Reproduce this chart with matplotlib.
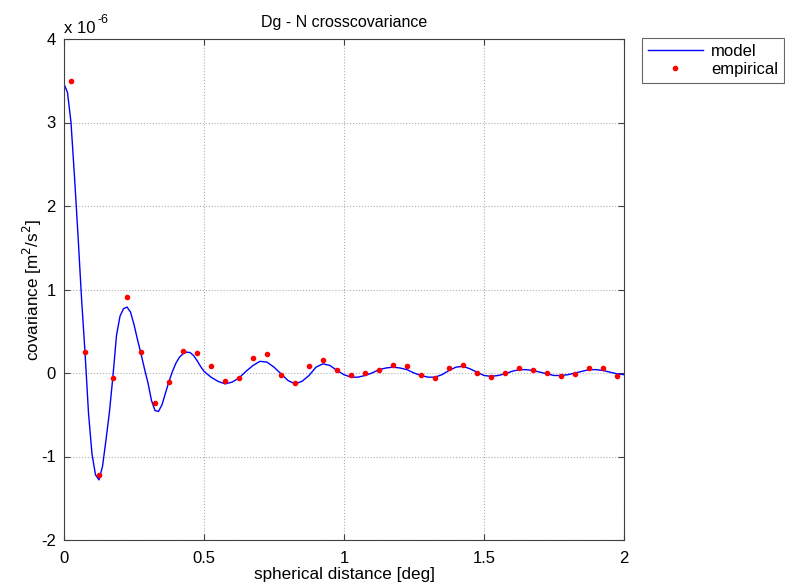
import matplotlib
matplotlib.use("Agg")
import matplotlib.pyplot as plt

plt.rcParams['font.family'] = ['Liberation Sans', 'DejaVu Sans']
plt.rcParams['axes.unicode_minus'] = False

# model curve (units of 1e-6 m^2/s^2)
# sampled every 0.0125 deg up to 0.5, then every 0.025 deg
model_x = [i * 0.0125 for i in range(41)] + [0.525 + 0.025 * i for i in range(60)]
model_y = [3.46, 3.36, 3.00, 2.35, 1.65, 0.90, 0.25, -0.48, -0.97, -1.22,
           -1.28, -1.12, -0.80, -0.46, -0.03, 0.45, 0.68, 0.77, 0.79, 0.73,
           0.58, 0.40, 0.23, 0.05, -0.12, -0.33, -0.45, -0.46, -0.38, -0.24,
           -0.10, 0.02, 0.12, 0.19, 0.23, 0.25, 0.245, 0.21, 0.15, 0.08,
           0.02,
           -0.05, -0.10, -0.13, -0.11, -0.06, 0.02, 0.09, 0.14, 0.13,
           0.07, -0.01, -0.09, -0.13, -0.10, -0.03, 0.07, 0.11, 0.09, 0.03,
           -0.02, -0.05, -0.05, -0.03, 0.00, 0.04, 0.06, 0.07, 0.06, 0.04,
           0.00, -0.03, -0.05, -0.05, -0.02, 0.03, 0.07, 0.08, 0.05, 0.01,
           -0.03, -0.04, -0.03, -0.01, 0.02, 0.04, 0.04, 0.03, 0.01, -0.01,
           -0.03, -0.03, -0.02, 0.00, 0.02, 0.04, 0.04, 0.03, 0.01, -0.01,
           -0.02]

# empirical points
emp_x = [0.025 + 0.05 * i for i in range(40)]
emp_y = [3.50, 0.25, -1.22, -0.06, 0.91, 0.25, -0.36, -0.11, 0.26, 0.24,
         0.08, -0.09, -0.06, 0.18, 0.23, -0.02, -0.12, 0.08, 0.16, 0.04,
         -0.02, 0.00, 0.03, 0.09, 0.08, -0.02, -0.06, 0.06, 0.10, 0.00,
         -0.05, 0.00, 0.06, 0.04, 0.00, -0.04, -0.01, 0.06, 0.06, -0.04]

xticks = [0, 0.5, 1, 1.5, 2]
xticklabels = ['0', '0.5', '1', '1.5', '2']
yticks = [-2, -1, 0, 1, 2, 3, 4]

fig = plt.figure(figsize=(7.85, 5.87), dpi=100)
ax = fig.add_axes([64/785, 47/587, 560/785, 501/587])

ax.plot(model_x, model_y, color=(0, 0, 1), lw=1.0, label='model')
ax.plot(emp_x, emp_y, linestyle='none', marker='o', ms=3.0, mfc='red',
        mec='red', label='empirical')

ax.set_xlim(0, 2)
ax.set_ylim(-2, 4)
ax.set_xticks(xticks)
ax.set_xticklabels(xticklabels)
ax.set_yticks(yticks)
ax.grid(True, linestyle=':', color='#b0b0b0', lw=0.8)
ax.tick_params(direction='in', top=True, right=True, labelsize=12,
               length=4, color='#404040', pad=6)
ax.tick_params(axis='x', pad=8)
for s in ax.spines.values():
    s.set_color('#404040')
    s.set_linewidth(0.8)

ax.set_title('Dg - N crosscovariance', fontsize=11.5, pad=9)
ax.set_xlabel('spherical distance [deg]', fontsize=12.3, labelpad=1)
ax.set_ylabel('covariance [m$^2$/s$^2$]', fontsize=12.3, labelpad=-2)
ax.text(0.0, 1.006, 'x 10', transform=ax.transAxes, fontsize=12,
        ha='left', va='bottom')
ax.text(0.059, 1.026, '-6', transform=ax.transAxes, fontsize=9,
        ha='left', va='bottom')

leg = fig.legend(loc='upper left', bbox_to_anchor=(642/785, 1 - 38/587),
                 fontsize=12, frameon=True, fancybox=False, edgecolor='#404040',
                 handlelength=3.3, borderpad=0.35, labelspacing=0.2,
                 handletextpad=0.48, borderaxespad=0)
leg.get_frame().set_linewidth(0.8)

fig.savefig('out.png', dpi=100)
